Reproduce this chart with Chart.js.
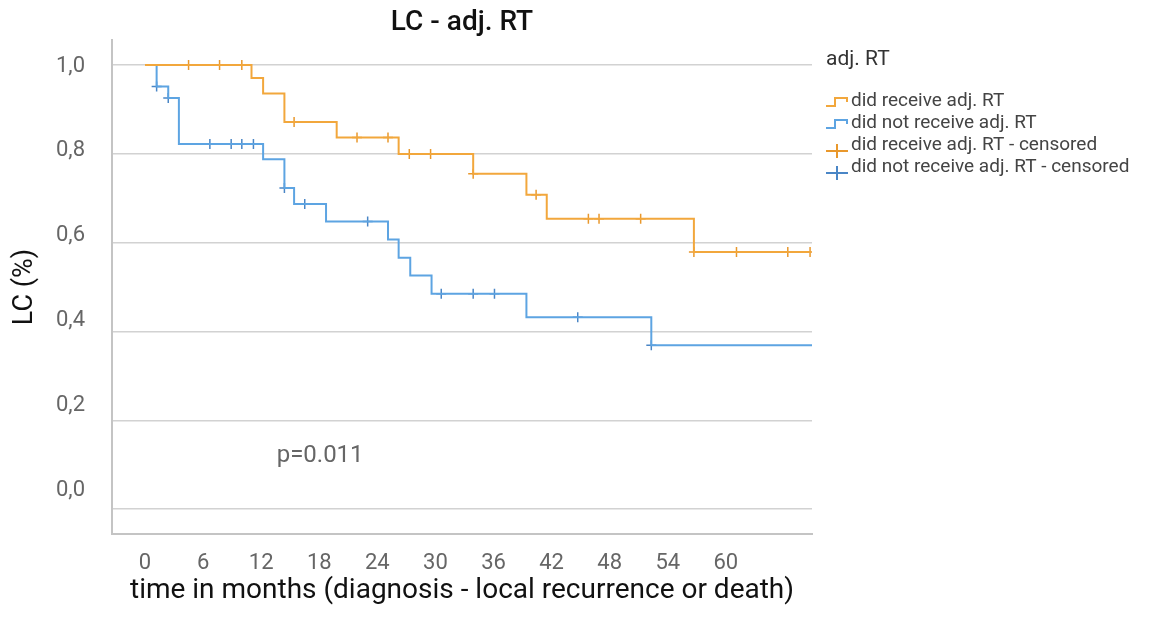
<!DOCTYPE html>
<html>
<head>
<meta charset="utf-8">
<title>LC - adj. RT</title>
<script src="https://cdn.jsdelivr.net/npm/chart.js@4.4.0/dist/chart.umd.min.js"></script>
<style>
    html, body { margin: 0; padding: 0; background: #fff; }
</style>
</head>
<body>
<canvas id="km" width="1162" height="618"></canvas>
<script>
// axis ticks
const monthTicks = [0, 6, 12, 18, 24, 30, 36, 42, 48, 54, 60];
const lcTicks = [0, 0.2, 0.4, 0.6, 0.8, 1.0];
const lcTickLabels = ['0,0', '0,2', '0,4', '0,6', '0,8', '1,0'];

// did receive adj. RT: event times (months) and LC after each step
const rtTimes = [0, 11.0, 12.2, 14.4, 19.8, 26.2, 33.9, 39.4, 41.5, 56.7, 68.8];
const rtLevels = [1.0, 0.971, 0.936, 0.872, 0.837, 0.8, 0.755, 0.708, 0.654, 0.579, 0.579];
const rtCensorTimes = [4.5, 7.7, 10.0, 15.4, 21.9, 25.1, 27.3, 29.5, 33.9, 40.4, 45.8, 46.9, 51.2, 56.7, 61.1, 66.4, 68.7];
const rtCensorLevels = [1.0, 1.0, 1.0, 0.872, 0.837, 0.837, 0.8, 0.8, 0.755, 0.708, 0.654, 0.654, 0.654, 0.579, 0.579, 0.579, 0.579];

// did not receive adj. RT
const noRtTimes = [0, 1.2, 2.4, 3.5, 12.2, 14.4, 15.4, 18.7, 25.1, 26.2, 27.4, 29.6, 39.4, 52.3, 69.0];
const noRtLevels = [1.0, 0.952, 0.926, 0.822, 0.788, 0.723, 0.687, 0.648, 0.607, 0.566, 0.526, 0.485, 0.432, 0.369, 0.369];
const noRtCensorTimes = [1.2, 2.4, 6.7, 8.9, 10.0, 11.2, 14.4, 16.5, 23.0, 30.6, 33.9, 36.1, 44.7, 52.3];
const noRtCensorLevels = [0.952, 0.926, 0.822, 0.822, 0.822, 0.822, 0.723, 0.687, 0.648, 0.485, 0.485, 0.485, 0.432, 0.369];

const pValueText = 'p=0.011';
const pValueAt = { x: 13.6, y: 0.12 };

const ORANGE = '#F2A73C';
const ORANGE_MARK = '#E9982C';
const BLUE = '#5DA4E2';
const BLUE_MARK = '#4A86C6';

const toPoints = (xs, ys) => xs.map((x, i) => ({ x, y: ys[i] }));

const legendItems = [
    { text: 'did receive adj. RT', color: ORANGE, icon: 'step' },
    { text: 'did not receive adj. RT', color: BLUE, icon: 'step' },
    { text: 'did receive adj. RT - censored', color: ORANGE_MARK, icon: 'cross' },
    { text: 'did not receive adj. RT - censored', color: BLUE_MARK, icon: 'cross' },
];

// legend on the right of the plot, with step / cross icons
const kmLegend = {
    id: 'kmLegend',
    afterDraw(chart) {
        const { ctx, chartArea } = chart;
        const left = chartArea.right + 14;
        ctx.save();
        ctx.textBaseline = 'middle';
        ctx.textAlign = 'left';
        ctx.fillStyle = '#333';
        ctx.font = '21px Roboto';
        ctx.fillText('adj. RT', left, 60);

        ctx.font = '19px Roboto';
        legendItems.forEach((item, i) => {
            const y = 101 + i * 22;
            ctx.strokeStyle = item.color;
            ctx.lineWidth = 2;
            ctx.beginPath();
            if (item.icon === 'step') {
                ctx.moveTo(left, y + 5);
                ctx.lineTo(left + 9, y + 5);
                ctx.lineTo(left + 9, y - 3);
                ctx.lineTo(left + 21, y - 3);
                ctx.lineTo(left + 21, y + 1);
            } else {
                ctx.moveTo(left, y + 6);
                ctx.lineTo(left + 22, y + 6);
                ctx.moveTo(left + 11, y - 1);
                ctx.lineTo(left + 11, y + 13);
            }
            ctx.stroke();
            ctx.fillStyle = '#444';
            ctx.fillText(item.text, left + 25, y);
        });
        ctx.restore();
    },
};

const pValueLabel = {
    id: 'pValueLabel',
    afterDatasetsDraw(chart) {
        const { ctx, scales } = chart;
        ctx.save();
        ctx.font = '24px Roboto';
        ctx.fillStyle = '#666';
        ctx.textAlign = 'left';
        ctx.textBaseline = 'middle';
        ctx.fillText(pValueText, scales.x.getPixelForValue(pValueAt.x), scales.y.getPixelForValue(pValueAt.y));
        ctx.restore();
    },
};

Chart.defaults.font.family = 'Roboto, sans-serif';

new Chart(document.getElementById('km'), {
    type: 'scatter',
    data: {
        datasets: [
            {
                label: 'did receive adj. RT',
                data: toPoints(rtTimes, rtLevels),
                showLine: true,
                stepped: true,
                borderColor: ORANGE,
                borderWidth: 2,
                pointRadius: 0,
            },
            {
                label: 'did not receive adj. RT',
                data: toPoints(noRtTimes, noRtLevels),
                showLine: true,
                stepped: true,
                borderColor: BLUE,
                borderWidth: 2,
                pointRadius: 0,
            },
            {
                label: 'did receive adj. RT - censored',
                data: toPoints(rtCensorTimes, rtCensorLevels),
                pointStyle: 'cross',
                pointRadius: 5,
                borderColor: ORANGE_MARK,
                borderWidth: 1.5,
            },
            {
                label: 'did not receive adj. RT - censored',
                data: toPoints(noRtCensorTimes, noRtCensorLevels),
                pointStyle: 'cross',
                pointRadius: 5,
                borderColor: BLUE_MARK,
                borderWidth: 1.5,
            },
        ],
    },
    options: {
        responsive: false,
        animation: false,
        layout: { padding: { left: 0, right: 350, top: 0, bottom: 0 } },
        plugins: {
            legend: { display: false },
            tooltip: { enabled: false },
            title: {
                display: true,
                text: 'LC - adj. RT',
                color: '#111',
                fullSize: false,
                font: { size: 28, weight: '500' },
                padding: { top: 3, bottom: 0 },
            },
        },
        scales: {
            x: {
                type: 'linear',
                position: 'bottom',
                min: -3.41,
                max: 68.9,
                afterBuildTicks: (scale) => {
                    scale.ticks = monthTicks.map((value) => ({ value }));
                },
                afterFit: (scale) => {
                    scale.height = 84;
                },
                ticks: { color: '#666', font: { size: 22 }, padding: 16 },
                grid: { display: false, drawTicks: false },
                border: { display: true, color: '#c4c4c4', width: 2 },
                title: {
                    display: true,
                    text: 'time in months (diagnosis - local recurrence or death)',
                    color: '#111',
                    font: { size: 28 },
                    padding: { top: 0, bottom: 10 },
                },
            },
            y: {
                type: 'linear',
                position: 'left',
                weight: 0,
                min: -0.056,
                max: 1.056,
                afterBuildTicks: (scale) => {
                    scale.ticks = lcTicks.map((value) => ({ value }));
                },
                afterFit: (scale) => {
                    scale.width = 0;
                },
                ticks: { display: false },
                grid: { color: '#d2d2d2', lineWidth: 1.5, drawTicks: false },
                border: { display: true, color: '#c4c4c4', width: 2 },
            },
            // tick labels of the LC axis run on their own scale
            yLabels: {
                type: 'linear',
                display: true,
                position: 'left',
                weight: 1,
                min: -0.103,
                max: 1.061,
                afterBuildTicks: (scale) => {
                    scale.ticks = lcTicks.map((value) => ({ value }));
                },
                afterFit: (scale) => {
                    scale.width = 112;
                },
                ticks: {
                    color: '#666',
                    font: { size: 22 },
                    padding: 27,
                    callback: (value) => lcTickLabels[lcTicks.indexOf(value)],
                },
                grid: { display: false, drawTicks: false },
                border: { display: false },
                title: {
                    display: true,
                    text: 'LC (%)',
                    color: '#111',
                    font: { size: 27 },
                    padding: { top: 9, bottom: 0 },
                },
            },
        },
    },
    plugins: [kmLegend, pValueLabel],
});
</script>
</body>
</html>
